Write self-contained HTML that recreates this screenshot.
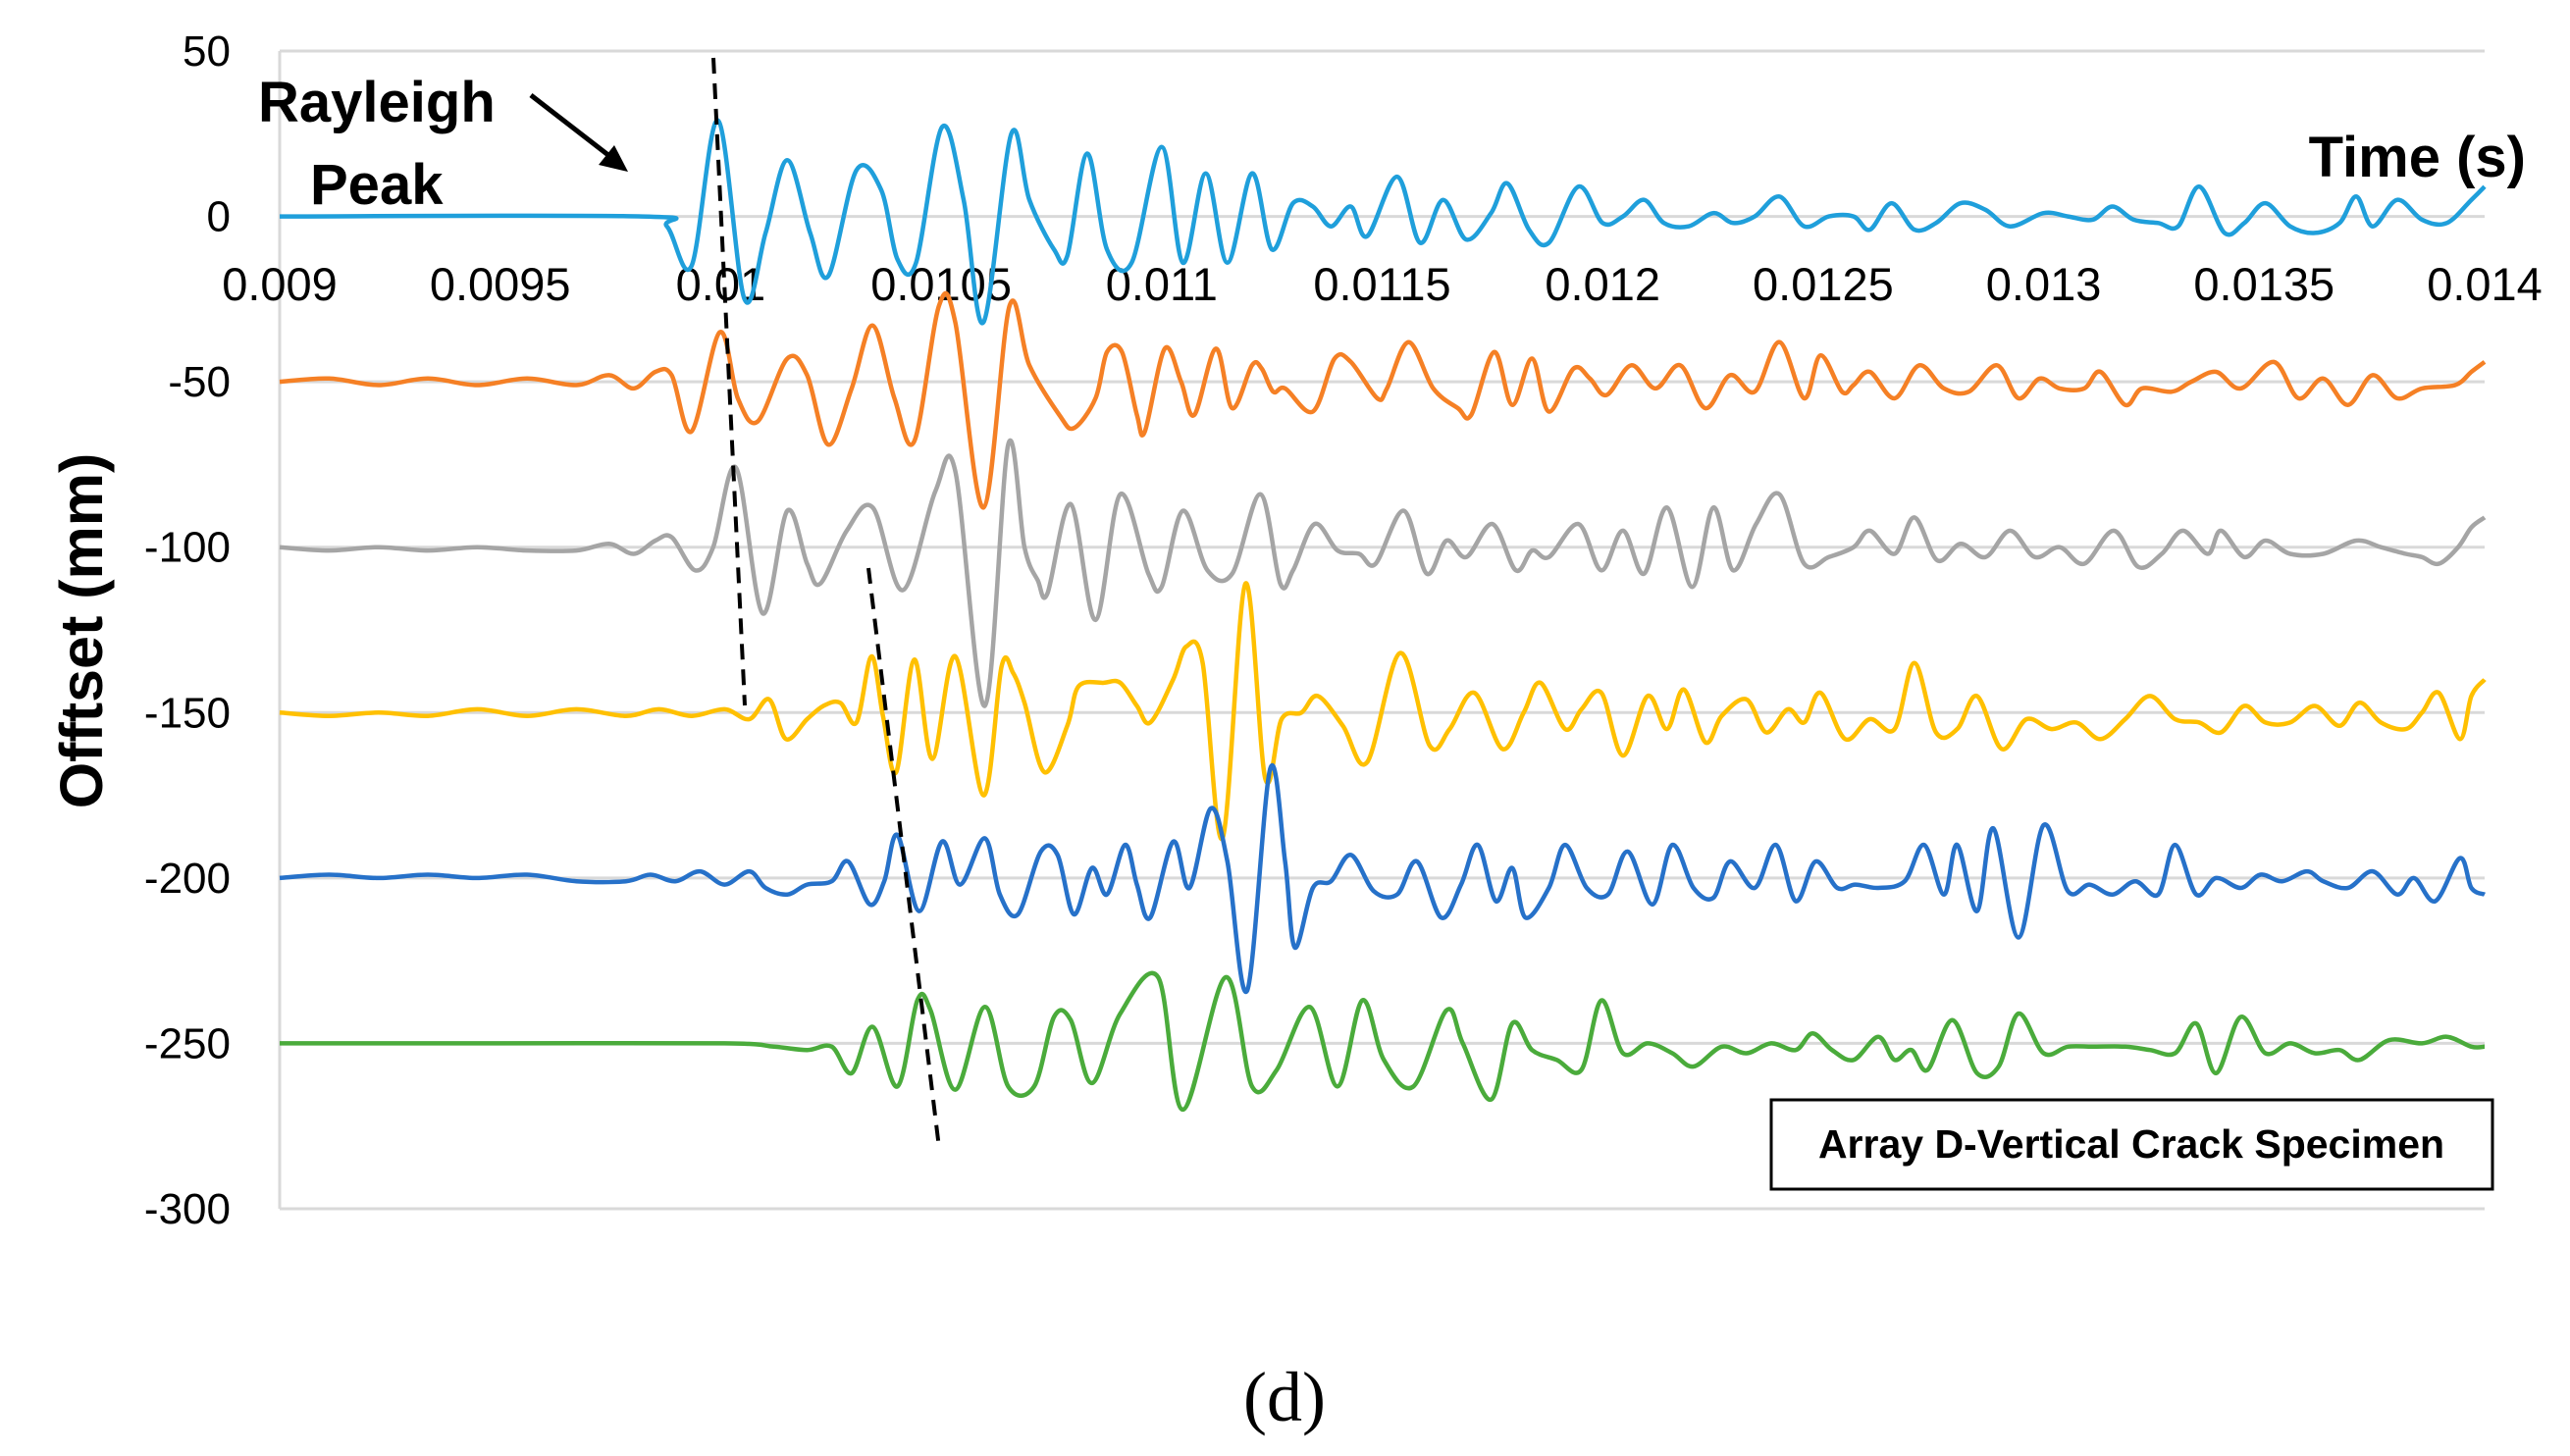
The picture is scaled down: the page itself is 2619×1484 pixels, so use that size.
<!DOCTYPE html>
<html><head><meta charset="utf-8"><style>
html,body{margin:0;padding:0;background:#fff;}
svg{display:block;}
</style></head><body>
<svg id="chart" width="2619" height="1484" viewBox="0 0 2619 1484" xmlns="http://www.w3.org/2000/svg" font-family="'Liberation Sans', sans-serif">
<g id="grid"></g>
<g id="yticks"></g>
<g id="xticks"></g>
<g id="series"></g>
<line x1="727" y1="59" x2="759" y2="719" stroke="#000" stroke-width="4" stroke-dasharray="16,10"/>
<line x1="885" y1="579" x2="957" y2="1170" stroke="#000" stroke-width="4" stroke-dasharray="16,10"/>
<text x="263" y="124" font-size="58" font-weight="bold">Rayleigh</text>
<text x="316" y="208" font-size="58" font-weight="bold">Peak</text>
<line x1="541" y1="97" x2="625" y2="162" stroke="#000" stroke-width="5"/>
<polygon points="640,175 610,168 626,148" fill="#000"/>
<text x="2574" y="180" font-size="58" font-weight="bold" text-anchor="end">Time (s)</text>
<text transform="translate(104,643) rotate(-90)" font-size="61" font-weight="bold" text-anchor="middle">Offtset (mm)</text>
<rect x="1805" y="1121" width="735" height="91" fill="#fff" stroke="#000" stroke-width="3"/>
<text x="2172" y="1180" font-size="41" font-weight="bold" text-anchor="middle">Array D-Vertical Crack Specimen</text>
<text x="1309" y="1448" font-size="72" font-family="'Liberation Serif', serif" text-anchor="middle">(d)</text>
</svg>
<script>
const yTicks = [50, 0, -50, -100, -150, -200, -250, -300];
const xTicks = [0.009, 0.0095, 0.01, 0.0105, 0.011, 0.0115, 0.012, 0.0125, 0.013, 0.0135, 0.014];
const xTickLabels = ["0.009","0.0095","0.01","0.0105","0.011","0.0115","0.012","0.0125","0.013","0.0135","0.014"];
const baselines = [0, -50, -100, -150, -200, -250];
const seriesColors = ["#1f9fdb", "#f58025", "#a5a5a5", "#ffc000", "#2671c9", "#4aab3b"];
const seriesNames = ["sensor-1", "sensor-2", "sensor-3", "sensor-4", "sensor-5", "sensor-6"];

// times in microseconds, values = deviation from baseline (mm)
const t1 = [9000,9822,9878,9934,9994,10054,10102,10151,10203,10244,10308,10364,10401,10443,10502,10551,10596,10659,10700,10756,10786,10831,10876,10932,11000,11048,11100,11149,11205,11250,11298,11343,11384,11429,11466,11534,11586,11638,11691,11747,11784,11833,11878,11945,12000,12046,12094,12139,12195,12251,12296,12345,12401,12457,12513,12569,12606,12655,12707,12756,12812,12868,12924,13000,13055,13111,13156,13204,13260,13305,13353,13410,13455,13503,13559,13615,13671,13709,13746,13802,13858,13914,13970,14000];
const v1 = [0,0,-3,-15,29,-25,-5,17,-5,-18,14,8,-13,-14,27,5,-32,25,5,-10,-12,19,-10,-14,21,-14,13,-14,13,-10,4,3,-3,3,-6,12,-8,5,-7,1,10,-4,-8,9,-2,0,5,-2,-3,1,-2,0,6,-3,0,0,-4,4,-4,-2,4,2,-3,1,0,-1,3,-1,-2,-3,9,-5,-2,4,-3,-5,-2,6,-3,5,-1,-2,5,9];

const t2 = [9000,9112,9224,9336,9448,9561,9673,9747,9803,9852,9889,9934,9998,10039,10084,10151,10196,10244,10297,10345,10394,10439,10495,10532,10596,10655,10700,10768,10801,10850,10876,10910,10944,10962,11007,11044,11074,11123,11160,11205,11227,11253,11280,11343,11392,11429,11489,11511,11560,11616,11672,11702,11754,11795,11840,11878,11934,11971,12009,12065,12120,12176,12233,12289,12345,12401,12457,12494,12543,12569,12606,12662,12718,12774,12830,12894,12943,12991,13036,13092,13129,13185,13223,13290,13335,13391,13447,13522,13578,13634,13690,13746,13802,13858,13933,13970,14000];
const v2 = [0,1,-1,1,-1,1,-1,2,-2,3,2,-15,15,-5,-12,7,2,-19,-2,17,-5,-18,23,18,-38,23,5,-10,-14,-5,9,9,-10,-15,10,0,-10,10,-8,5,4,-3,-2,-9,7,6,-5,-2,12,-2,-8,-10,9,-7,7,-9,4,1,-4,5,-2,5,-8,2,-3,12,-5,8,-3,-1,3,-5,5,-2,-3,5,-5,1,-2,-2,3,-7,-2,-3,0,3,-2,6,-5,1,-7,2,-5,-2,-1,3,6];

const t3 = [9000,9112,9224,9336,9448,9561,9673,9747,9803,9852,9889,9942,9983,10035,10095,10151,10196,10226,10286,10345,10413,10487,10532,10599,10652,10689,10719,10741,10794,10850,10906,10970,11000,11048,11104,11160,11224,11269,11298,11347,11399,11448,11485,11549,11601,11646,11691,11750,11803,11840,11878,11945,11997,12046,12094,12146,12203,12251,12296,12348,12401,12457,12513,12569,12606,12662,12707,12759,12812,12868,12924,12980,13036,13092,13159,13215,13268,13316,13372,13402,13455,13503,13559,13634,13709,13765,13821,13858,13896,13940,13970,14000];
const v3 = [0,-1,0,-1,0,-1,-1,1,-2,2,3,-7,0,24,-20,11,-5,-11,5,12,-13,17,23,-48,31,0,-10,-14,13,-22,16,-8,-12,11,-7,-8,16,-11,-7,7,-1,-2,-5,11,-8,2,-3,7,-7,-1,-3,7,-7,5,-8,12,-12,12,-7,7,16,-5,-3,0,5,-2,9,-4,1,-3,5,-3,0,-5,5,-6,-2,5,-2,5,-3,2,-2,-2,2,0,-2,-3,-5,0,6,9];

const t4 = [9000,9112,9224,9336,9448,9561,9673,9785,9860,9934,10009,10065,10110,10148,10196,10233,10271,10308,10342,10368,10398,10439,10480,10532,10596,10637,10663,10689,10734,10786,10812,10869,10906,10944,10974,11026,11056,11093,11138,11190,11235,11272,11317,11354,11411,11466,11541,11608,11653,11709,11773,11821,11859,11915,11952,11997,12046,12102,12146,12184,12233,12270,12326,12371,12420,12457,12494,12550,12606,12662,12707,12756,12804,12849,12905,12961,13018,13074,13129,13185,13241,13298,13353,13402,13455,13503,13559,13615,13671,13716,13765,13821,13858,13896,13944,13970,14000];
const v4 = [0,-1,0,-1,1,-1,1,-1,1,-1,1,-2,4,-8,-2,2,3,-3,17,-1,-18,16,-14,17,-25,14,12,3,-18,-4,8,9,9,2,-3,10,20,15,-38,39,-20,-2,0,5,-4,-15,18,-10,-5,6,-11,0,9,-5,1,6,-13,5,-5,7,-9,-1,4,-6,1,-3,6,-8,-2,-5,15,-6,-5,5,-11,-2,-5,-3,-8,-2,5,-2,-3,-6,2,-3,-3,2,-4,3,-3,-5,0,6,-8,5,10];

const t5 = [9000,9112,9224,9336,9448,9561,9673,9785,9841,9897,9953,10009,10065,10102,10151,10196,10252,10289,10338,10371,10401,10450,10502,10543,10599,10633,10674,10726,10764,10801,10842,10876,10917,10944,10974,11026,11063,11111,11149,11194,11246,11280,11302,11343,11384,11429,11481,11534,11579,11634,11679,11717,11758,11795,11825,11878,11915,11964,12012,12057,12113,12158,12206,12251,12289,12345,12393,12438,12483,12532,12573,12625,12685,12729,12774,12804,12849,12886,12943,13000,13055,13104,13156,13208,13260,13298,13346,13391,13447,13492,13541,13597,13634,13690,13746,13802,13840,13888,13944,13970,14000];
const v5 = [0,1,0,1,0,1,-1,-1,1,-1,2,-2,2,-3,-5,-2,-1,5,-8,-1,13,-10,11,-2,12,-5,-11,8,7,-11,3,-5,10,-2,-12,11,-3,21,5,-34,33,5,-21,-3,-1,7,-4,-5,5,-12,-2,10,-7,3,-12,-3,10,-3,-5,8,-8,10,-3,-6,5,-3,10,-7,5,-3,-2,-3,-1,10,-5,10,-10,15,-18,16,-4,-2,-5,-1,-5,10,-5,0,-3,1,-1,2,-1,-3,2,-5,0,-7,6,-3,-5];

const t6 = [9000,9486,10009,10121,10196,10252,10297,10345,10401,10446,10476,10532,10599,10652,10711,10756,10794,10842,10906,10992,11048,11145,11205,11261,11336,11399,11455,11504,11571,11646,11683,11747,11795,11840,11896,11952,11997,12046,12102,12158,12206,12270,12326,12382,12438,12476,12520,12569,12625,12662,12700,12737,12793,12849,12898,12943,13000,13055,13111,13185,13241,13298,13346,13391,13447,13503,13559,13615,13671,13716,13784,13858,13914,13970,14000];
const v6 = [0,0,0,-1,-2,-1,-9,5,-13,13,10,-14,11,-13,-13,8,7,-12,9,20,-20,20,-13,-8,11,-13,13,-5,-13,10,0,-17,6,-2,-5,-8,13,-3,0,-3,-7,-1,-3,0,-2,3,-2,-5,2,-5,-2,-8,7,-9,-7,9,-3,-1,-1,-1,-2,-3,6,-9,8,-3,0,-3,-2,-5,1,0,2,-1,-1];

const times = [t1, t2, t3, t4, t5, t6];
const values = [v1, v2, v3, v4, v5, v6];

const NS = "http://www.w3.org/2000/svg";
const X0 = 285, X1 = 2532, Y50 = 52, YM300 = 1232;
function xScale(t){ return X0 + (t - 0.009) / 0.005 * (X1 - X0); }
function yScale(v){ return Y50 + (50 - v) / 350 * (YM300 - Y50); }

const grid = document.getElementById('grid');
const ytg = document.getElementById('yticks');
yTicks.forEach(v => {
  const l = document.createElementNS(NS, 'line');
  
  
  l.setAttribute('x1', X0); l.setAttribute('x2', X1);
  l.setAttribute('y1', yScale(v)); l.setAttribute('y2', yScale(v));
  l.setAttribute('stroke', '#d9d9d9'); l.setAttribute('stroke-width', '3');
  grid.appendChild(l);
  const t = document.createElementNS(NS, 'text');
  
  
  t.setAttribute('x', 235); t.setAttribute('y', yScale(v) + 15);
  t.setAttribute('font-size', '44'); t.setAttribute('text-anchor', 'end');
  t.textContent = String(v);
  ytg.appendChild(t);
});
const ax = document.createElementNS(NS, 'line');


ax.setAttribute('x1', X0); ax.setAttribute('x2', X0);
ax.setAttribute('y1', Y50); ax.setAttribute('y2', YM300);
ax.setAttribute('stroke', '#d9d9d9'); ax.setAttribute('stroke-width', '3');
grid.appendChild(ax);

const xtg = document.getElementById('xticks');
xTicks.forEach((v, i) => {
  const t = document.createElementNS(NS, 'text');
  
  
  t.setAttribute('x', xScale(v)); t.setAttribute('y', 306);
  t.setAttribute('font-size', '47'); t.setAttribute('text-anchor', 'middle');
  t.textContent = xTickLabels[i];
  xtg.appendChild(t);
});

function smoothPath(pts){
  let d = 'M' + pts[0][0].toFixed(1) + ',' + pts[0][1].toFixed(1);
  for (let i = 0; i < pts.length - 1; i++) {
    const p0 = pts[Math.max(0, i - 1)], p1 = pts[i], p2 = pts[i + 1], p3 = pts[Math.min(pts.length - 1, i + 2)];
    const k = 6;
    const c1x = p1[0] + (p2[0] - p0[0]) / k, c1y = p1[1] + (p2[1] - p0[1]) / k;
    const c2x = p2[0] - (p3[0] - p1[0]) / k, c2y = p2[1] - (p3[1] - p1[1]) / k;
    d += ' C' + c1x.toFixed(1) + ',' + c1y.toFixed(1) + ' ' + c2x.toFixed(1) + ',' + c2y.toFixed(1) + ' ' + p2[0].toFixed(1) + ',' + p2[1].toFixed(1);
  }
  return d;
}

const sg = document.getElementById('series');
times.forEach((ts, s) => {
  const pts = ts.map((t, i) => [xScale(t / 1e6), yScale(baselines[s] + values[s][i])]);
  const p = document.createElementNS(NS, 'path');
  
  
  p.setAttribute('d', smoothPath(pts));
  p.setAttribute('fill', 'none');
  p.setAttribute('stroke', seriesColors[s]);
  p.setAttribute('stroke-width', '4.5');
  p.setAttribute('stroke-linejoin', 'round');
  sg.appendChild(p);
});
</script>
</body></html>
